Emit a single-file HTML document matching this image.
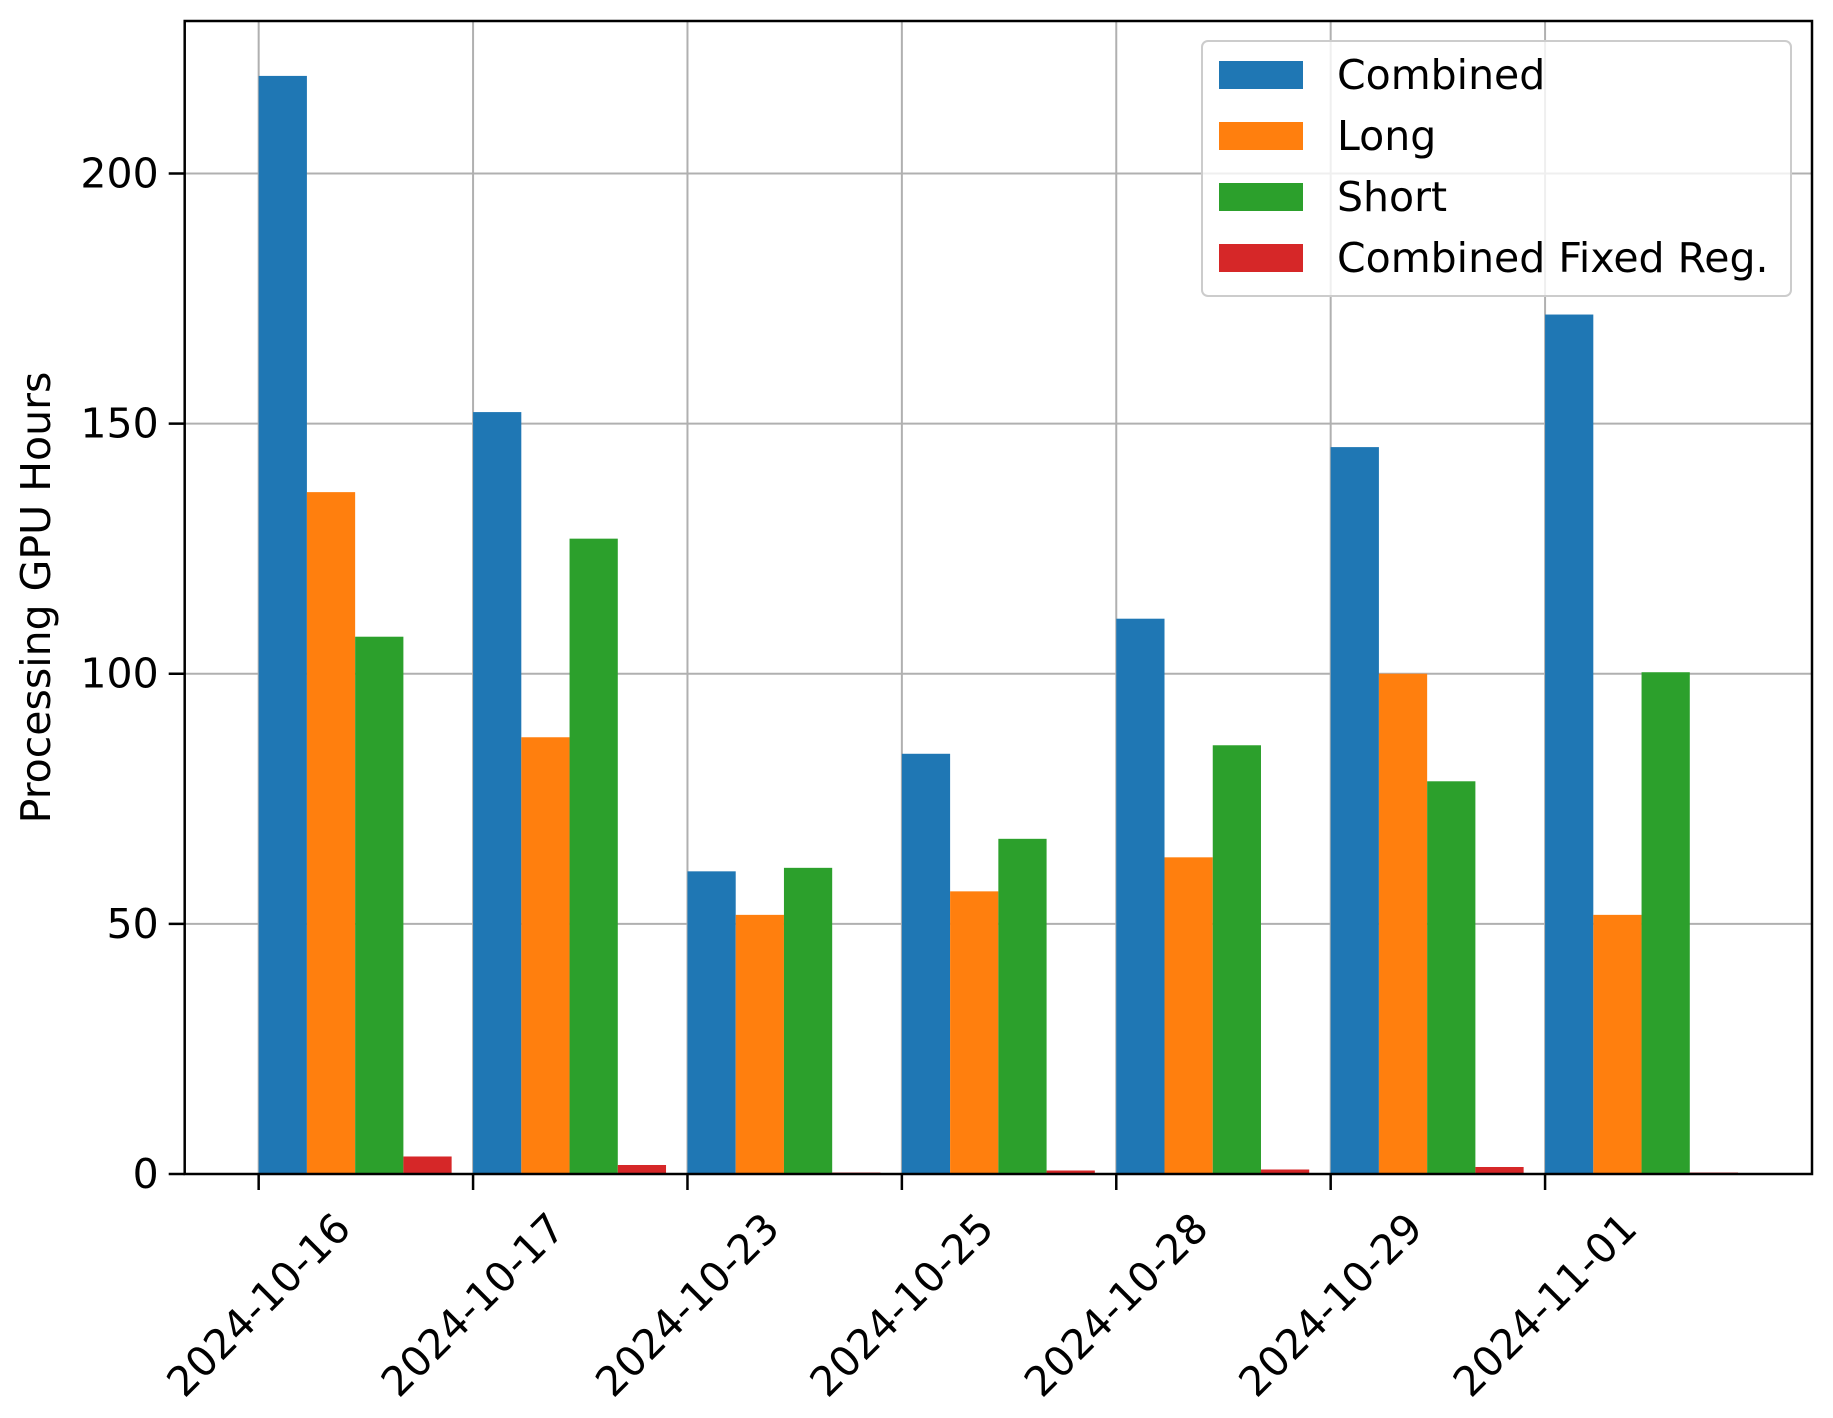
<!DOCTYPE html>
<html><head><meta charset="utf-8"><style>
html,body{margin:0;padding:0;background:#fff;}
svg{display:block;font-family:"DejaVu Sans","Liberation Sans",sans-serif;}
</style></head><body>
<svg id="chart" width="1833" height="1418" viewBox="0 0 1833 1418">
<g id="grid"></g>
<g id="bars"></g>
<g id="axes"></g>
<g id="legend"></g>
</svg>
<script>
const categories = ["2024-10-16","2024-10-17","2024-10-23","2024-10-25","2024-10-28","2024-10-29","2024-11-01"];
const combined = [219.5, 152.3, 60.5, 84.0, 111.0, 145.3, 171.8];
const longVals = [136.3, 87.3, 51.8, 56.5, 63.3, 100.0, 51.8];
const shortVals = [107.4, 127.0, 61.2, 67.0, 85.7, 78.5, 100.3];
const fixedReg = [3.5, 1.8, 0.3, 0.7, 0.9, 1.4, 0.3];
const seriesNames = ["Combined","Long","Short","Combined Fixed Reg."];
const yTicks = [0, 50, 100, 150, 200];

const NS = "http://www.w3.org/2000/svg";
const colors = ["#1f77b4","#ff7f0e","#2ca02c","#d62728"];
const series = [combined, longVals, shortVals, fixedReg];
const L = 184.7, R = 1812, T = 21, B = 1174;
const FS = 41;
const barW = 0.225;
const xmin = -0.345, xmax = 6 + 4*barW + 0.345;
const ymax = Math.max(...series.flat()) * 1.05;
const x = v => L + (v - xmin) / (xmax - xmin) * (R - L);
const y = v => B - v / ymax * (B - T);

function mk(tag, attrs, parent, text) {
  const e = document.createElementNS(NS, tag);
  for (const k in attrs) e.setAttribute(k, attrs[k]);
  if (text !== undefined) e.textContent = text;
  parent.appendChild(e);
  return e;
}
const grid = document.getElementById('grid');
const bars = document.getElementById('bars');
const axes = document.getElementById('axes');
const legend = document.getElementById('legend');

categories.forEach((c, i) => {
  const g = mk('line', {x1: x(i), x2: x(i), y1: T, y2: B, stroke: '#b0b0b0', 'stroke-width': 2}, grid);
  
  
});
yTicks.forEach(t => {
  const g = mk('line', {x1: L, x2: R, y1: y(t), y2: y(t), stroke: '#b0b0b0', 'stroke-width': 2}, grid);
  
  
});

series.forEach((s, si) => {
  s.forEach((v, i) => {
    const x0 = x(i + si * barW), x1 = x(i + (si + 1) * barW);
    const r = mk('rect', {x: x0, y: y(v), width: x1 - x0, height: B - y(v), fill: colors[si]}, bars);
    
    
  });
});

const frame = mk('rect', {x: L, y: T, width: R - L, height: B - T, fill: 'none', stroke: '#000', 'stroke-width': 2.5}, axes);



yTicks.forEach(t => {
  const tk = mk('line', {x1: L - 16, x2: L, y1: y(t), y2: y(t), stroke: '#000', 'stroke-width': 2.5}, axes);
  
  
  const lb = mk('text', {x: L - 26, y: y(t), 'text-anchor': 'end', 'dominant-baseline': 'central', 'font-size': FS, fill: '#000'}, axes, String(t));
  
  
});

categories.forEach((c, i) => {
  const tk = mk('line', {x1: x(i), x2: x(i), y1: B, y2: B + 16, stroke: '#000', 'stroke-width': 2.5}, axes);
  
  
  const cy = 1305;
  const lb = mk('text', {x: x(i), y: cy, 'text-anchor': 'middle', 'dominant-baseline': 'central', 'font-size': FS, fill: '#000', transform: `rotate(-45 ${x(i)} ${cy})`}, axes, c);
  
  
});

const ty = (T + B) / 2;
const yt = mk('text', {x: 36, y: ty, 'text-anchor': 'middle', 'dominant-baseline': 'central', 'font-size': FS, fill: '#000', transform: `rotate(-90 36 ${ty})`}, axes, 'Processing GPU Hours');



const lbox = mk('rect', {x: 1202, y: 41, width: 589, height: 255, rx: 6, fill: '#fff', 'fill-opacity': 0.8, stroke: '#cccccc', 'stroke-width': 2}, legend);


seriesNames.forEach((n, i) => {
  const cy = 75 + i * 61;
  const p = mk('rect', {x: 1219, y: cy - 14, width: 84, height: 28, fill: colors[i]}, legend);
  
  
  const t = mk('text', {x: 1337, y: cy, 'dominant-baseline': 'central', 'font-size': FS, fill: '#000'}, legend, n);
  
  
});
</script>
</body></html>
